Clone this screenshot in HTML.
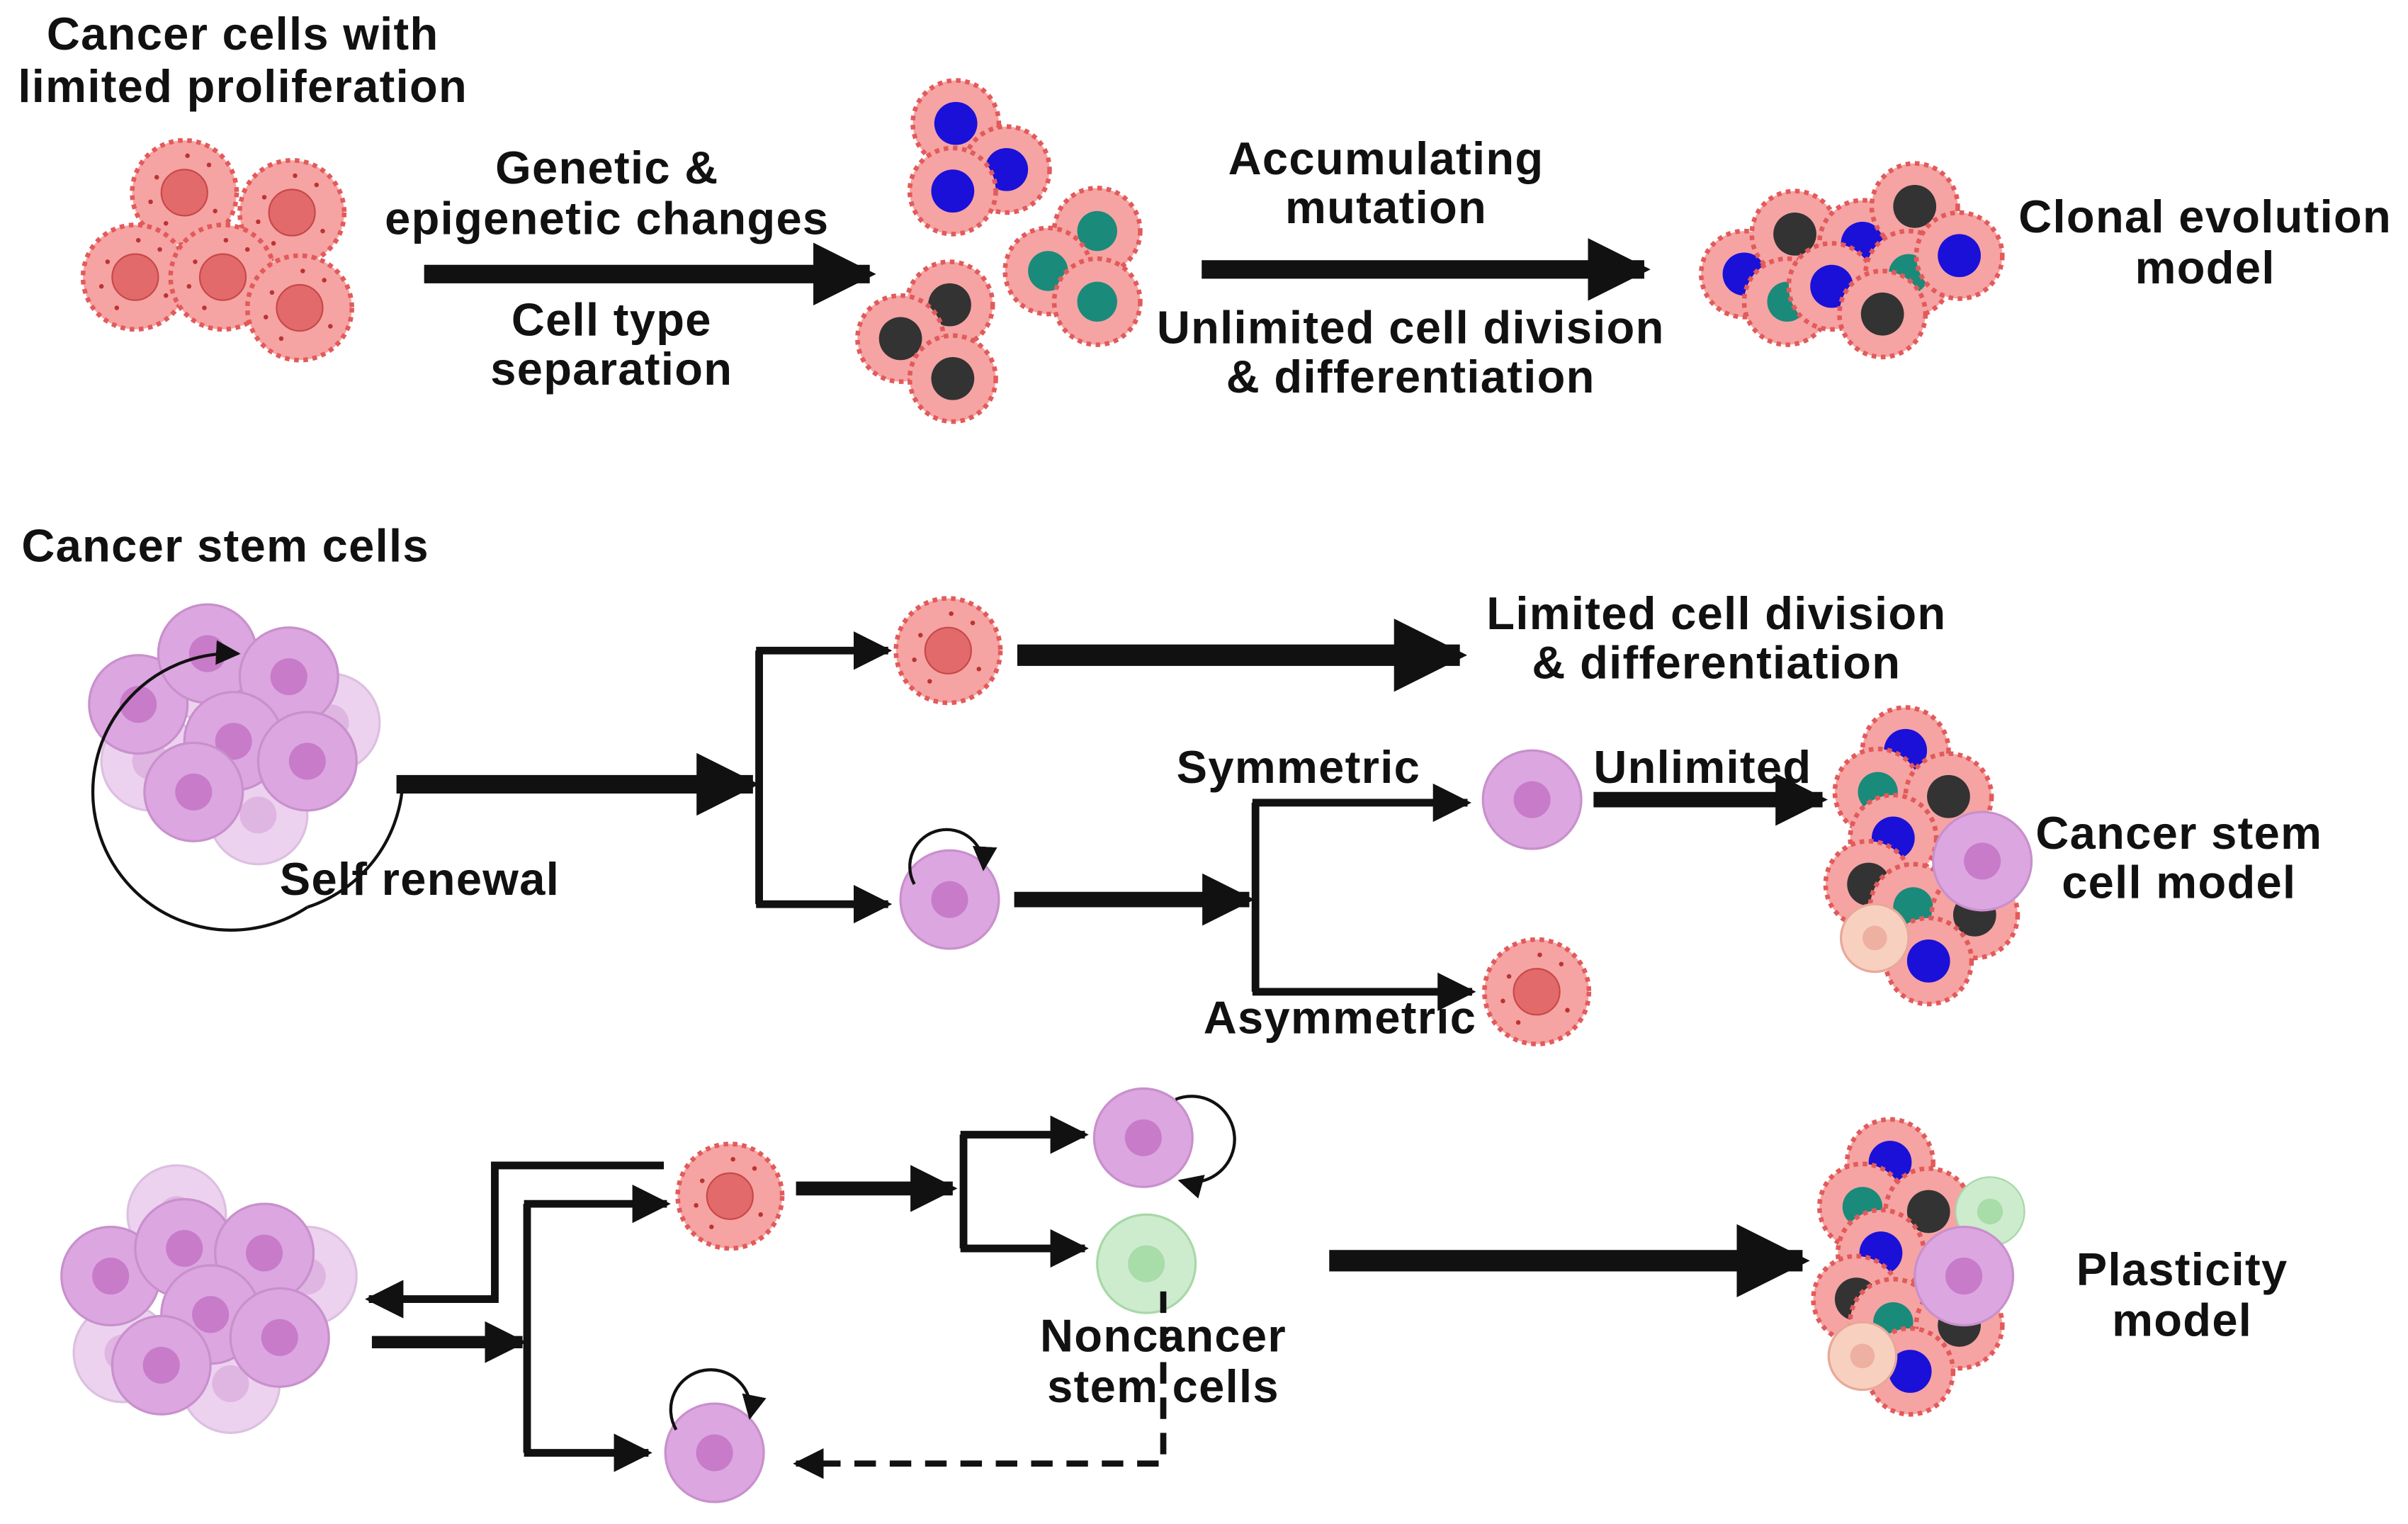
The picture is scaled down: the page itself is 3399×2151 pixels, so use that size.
<!DOCTYPE html>
<html><head><meta charset="utf-8"><style>
html,body{margin:0;padding:0;background:#fff;}
svg{display:block;}
text{font-family:"Liberation Sans",sans-serif;font-weight:bold;font-size:30px;letter-spacing:0.6px;fill:#111;}
</style></head><body>
<svg width="3399" height="2151" viewBox="0 0 1567 991" xmlns="http://www.w3.org/2000/svg">
<defs>
<marker id="ah" viewBox="0 0 10 10" refX="9" refY="5" markerWidth="3.4" markerHeight="3.4" orient="auto" markerUnits="strokeWidth"><path d="M0,0 L10,5 L0,10z" fill="#111"/></marker>
<marker id="ahs" viewBox="0 0 10 10" refX="9" refY="5" markerWidth="5" markerHeight="5" orient="auto" markerUnits="strokeWidth"><path d="M0,0 L10,5 L0,10z" fill="#111"/></marker>
<marker id="aht" viewBox="0 0 10 10" refX="9" refY="5" markerWidth="8" markerHeight="8" orient="auto" markerUnits="strokeWidth"><path d="M0,0 L10,5 L0,10z" fill="#111"/></marker>
<g id="pk"><circle r="34" fill="#f6a3a3" stroke="#e25a5a" stroke-width="3" stroke-dasharray="3 3"/><circle r="31" fill="#f6a3a3"/><circle r="15" fill="#e26a6a" stroke="#c84848" stroke-width="1"/><circle cx="-18" cy="-10" r="1.5" fill="#b33"/><circle cx="16" cy="-18" r="1.5" fill="#b33"/><circle cx="20" cy="12" r="1.5" fill="#b33"/><circle cx="-12" cy="20" r="1.5" fill="#b33"/><circle cx="2" cy="-24" r="1.5" fill="#b33"/><circle cx="-22" cy="6" r="1.5" fill="#b33"/></g>
<g id="pkd"><circle r="28" fill="#f6a3a3" stroke="#e25a5a" stroke-width="3" stroke-dasharray="3 3"/><circle r="14" fill="#333"/></g>
<g id="pkb"><circle r="28" fill="#f6a3a3" stroke="#e25a5a" stroke-width="3" stroke-dasharray="3 3"/><circle r="14" fill="#1a10d8"/></g>
<g id="pkt"><circle r="28" fill="#f6a3a3" stroke="#e25a5a" stroke-width="3" stroke-dasharray="3 3"/><circle r="13" fill="#1a8a7a"/></g>
<g id="st"><circle r="32" fill="#dca6e0" stroke="#c890cc" stroke-width="1.5"/><circle r="12" fill="#c77bc8"/></g>
<g id="stl"><circle r="32" fill="#ecd2ef" stroke="#dcc0e0" stroke-width="1.5"/><circle r="12" fill="#dfb5e2"/></g>
<g id="gr"><circle r="32" fill="#cdeccd" stroke="#a8d8a8" stroke-width="1.5"/><circle r="12" fill="#a8dca8"/></g>
<g id="pe"><circle r="22" fill="#f8d0c0" stroke="#e8a898" stroke-width="1.5"/><circle r="8" fill="#eeb0a0"/></g>
</defs>

<!-- Row 1 -->
<text x="158" y="32" text-anchor="middle">Cancer cells with</text>
<text x="158" y="66" text-anchor="middle">limited proliferation</text>
<use href="#pk" x="120" y="125"/><use href="#pk" x="190" y="138"/><use href="#pk" x="88" y="180"/><use href="#pk" x="145" y="180"/><use href="#pk" x="195" y="200"/>
<line x1="276" y1="178" x2="566" y2="178" stroke="#111" stroke-width="12" marker-end="url(#ah)"/>
<text x="395" y="119" text-anchor="middle">Genetic &amp;</text>
<text x="395" y="152" text-anchor="middle">epigenetic changes</text>
<text x="398" y="218" text-anchor="middle">Cell type</text>
<text x="398" y="250" text-anchor="middle">separation</text>
<use href="#pkb" x="622" y="80"/><use href="#pkb" x="655" y="110"/><use href="#pkb" x="620" y="124"/>
<use href="#pkt" x="714" y="150"/><use href="#pkt" x="682" y="176"/><use href="#pkt" x="714" y="196"/>
<use href="#pkd" x="618" y="198"/><use href="#pkd" x="586" y="220"/><use href="#pkd" x="620" y="246"/>
<line x1="782" y1="175" x2="1070" y2="175" stroke="#111" stroke-width="12" marker-end="url(#ah)"/>
<text x="902" y="113" text-anchor="middle">Accumulating</text>
<text x="902" y="145" text-anchor="middle">mutation</text>
<text x="918" y="223" text-anchor="middle">Unlimited cell division</text>
<text x="918" y="255" text-anchor="middle">&amp; differentiation</text>
<use href="#pkb" x="1135" y="178"/><use href="#pkd" x="1168" y="152"/><use href="#pkt" x="1163" y="196"/><use href="#pkb" x="1212" y="158"/><use href="#pkb" x="1192" y="186"/><use href="#pkd" x="1246" y="134"/><use href="#pkt" x="1242" y="178"/><use href="#pkd" x="1225" y="204"/><use href="#pkb" x="1275" y="166"/>
<text x="1435" y="151" text-anchor="middle">Clonal evolution</text>
<text x="1435" y="184" text-anchor="middle">model</text>

<!-- Row 2 -->
<text x="14" y="365">Cancer stem cells</text>
<use href="#stl" x="138" y="438"/><use href="#stl" x="215" y="470"/><use href="#stl" x="98" y="495"/><use href="#stl" x="168" y="530"/>
<use href="#st" x="90" y="458"/><use href="#st" x="135" y="425"/><use href="#st" x="188" y="440"/><use href="#st" x="152" y="482"/><use href="#st" x="200" y="495"/><use href="#st" x="126" y="515"/>
<path d="M200,590 A90,90 0 1 1 155,425" fill="none" stroke="#111" stroke-width="2" marker-end="url(#aht)"/>
<path d="M262,510 A90,90 0 0 1 200,590" fill="none" stroke="#111" stroke-width="2"/>
<text x="182" y="582">Self renewal</text>
<line x1="258" y1="510" x2="490" y2="510" stroke="#111" stroke-width="12" marker-end="url(#ah)"/>
<line x1="494" y1="423" x2="494" y2="588" stroke="#111" stroke-width="5"/>
<line x1="492" y1="423" x2="578" y2="423" stroke="#111" stroke-width="5" marker-end="url(#ahs)"/>
<line x1="492" y1="588" x2="578" y2="588" stroke="#111" stroke-width="5" marker-end="url(#ahs)"/>
<use href="#pk" x="617" y="423"/>
<line x1="662" y1="426" x2="950" y2="426" stroke="#111" stroke-width="14" marker-end="url(#ah)"/>
<text x="1117" y="409" text-anchor="middle">Limited cell division</text>
<text x="1117" y="441" text-anchor="middle">&amp; differentiation</text>
<use href="#st" x="618" y="585"/>
<path d="M595,575 A24,24 0 1 1 640,565" fill="none" stroke="#111" stroke-width="2" marker-end="url(#aht)"/>
<line x1="660" y1="585" x2="813" y2="585" stroke="#111" stroke-width="10" marker-end="url(#ah)"/>
<line x1="817" y1="522" x2="817" y2="645" stroke="#111" stroke-width="5"/>
<line x1="815" y1="522" x2="955" y2="522" stroke="#111" stroke-width="5" marker-end="url(#ahs)"/>
<line x1="815" y1="645" x2="958" y2="645" stroke="#111" stroke-width="5" marker-end="url(#ahs)"/>
<text x="845" y="509" text-anchor="middle">Symmetric</text>
<text x="872" y="672" text-anchor="middle">Asymmetric</text>
<use href="#st" x="997" y="520"/>
<use href="#pk" x="1000" y="645"/>
<line x1="1037" y1="520" x2="1186" y2="520" stroke="#111" stroke-width="10" marker-end="url(#ah)"/>
<text x="1108" y="509" text-anchor="middle">Unlimited</text>
<use href="#pkb" x="1240" y="488"/><use href="#pkt" x="1222" y="515"/><use href="#pkd" x="1268" y="518"/><use href="#pkb" x="1232" y="545"/><use href="#pkd" x="1216" y="575"/><use href="#pkt" x="1245" y="590"/><use href="#pkd" x="1285" y="595"/><use href="#pkb" x="1255" y="625"/>
<use href="#st" x="1290" y="560"/><use href="#pe" x="1220" y="610"/>
<text x="1418" y="552" text-anchor="middle">Cancer stem</text>
<text x="1418" y="584" text-anchor="middle">cell model</text>

<!-- Row 3 -->
<use href="#stl" x="115" y="790"/><use href="#stl" x="200" y="830"/><use href="#stl" x="150" y="900"/><use href="#stl" x="80" y="880"/>
<use href="#st" x="72" y="830"/><use href="#st" x="120" y="812"/><use href="#st" x="172" y="815"/><use href="#st" x="137" y="855"/><use href="#st" x="182" y="870"/><use href="#st" x="105" y="888"/>
<polyline points="432,758 322,758 322,845 240,845" fill="none" stroke="#111" stroke-width="5" marker-end="url(#ahs)"/>
<line x1="242" y1="873" x2="340" y2="873" stroke="#111" stroke-width="8" marker-end="url(#ah)"/>
<line x1="343" y1="783" x2="343" y2="945" stroke="#111" stroke-width="5"/>
<line x1="341" y1="783" x2="434" y2="783" stroke="#111" stroke-width="5" marker-end="url(#ahs)"/>
<line x1="341" y1="945" x2="422" y2="945" stroke="#111" stroke-width="5" marker-end="url(#ahs)"/>
<use href="#pk" x="475" y="778"/>
<line x1="518" y1="773" x2="620" y2="773" stroke="#111" stroke-width="9" marker-end="url(#ah)"/>
<line x1="627" y1="738" x2="627" y2="812" stroke="#111" stroke-width="5"/>
<line x1="625" y1="738" x2="706" y2="738" stroke="#111" stroke-width="5" marker-end="url(#ahs)"/>
<line x1="625" y1="812" x2="706" y2="812" stroke="#111" stroke-width="5" marker-end="url(#ahs)"/>
<use href="#st" x="744" y="740"/>
<path d="M765,715 A28,28 0 1 1 768,768" fill="none" stroke="#111" stroke-width="2" marker-end="url(#aht)"/>
<use href="#gr" x="746" y="822"/>
<text x="757" y="879" text-anchor="middle">Noncancer</text>
<text x="757" y="912" text-anchor="middle">stem cells</text>
<polyline points="757,840 757,952 518,952" fill="none" stroke="#111" stroke-width="4" stroke-dasharray="14 9" marker-end="url(#ahs)"/>
<use href="#st" x="465" y="945"/>
<path d="M440,930 A26,26 0 1 1 488,922" fill="none" stroke="#111" stroke-width="2" marker-end="url(#aht)"/>
<line x1="865" y1="820" x2="1173" y2="820" stroke="#111" stroke-width="14" marker-end="url(#ah)"/>
<use href="#pkb" x="1230" y="756"/><use href="#pkt" x="1212" y="785"/><use href="#pkd" x="1255" y="788"/><use href="#pkb" x="1224" y="815"/><use href="#pkd" x="1208" y="845"/><use href="#pkt" x="1232" y="860"/><use href="#pkd" x="1275" y="862"/><use href="#pkb" x="1243" y="892"/>
<use href="#gr" x="1295" y="788" transform="translate(1295 788) scale(0.7) translate(-1295 -788)"/>
<use href="#st" x="1278" y="830"/><use href="#pe" x="1212" y="882"/>
<text x="1420" y="836" text-anchor="middle">Plasticity</text>
<text x="1420" y="869" text-anchor="middle">model</text>
</svg>
</body></html>
